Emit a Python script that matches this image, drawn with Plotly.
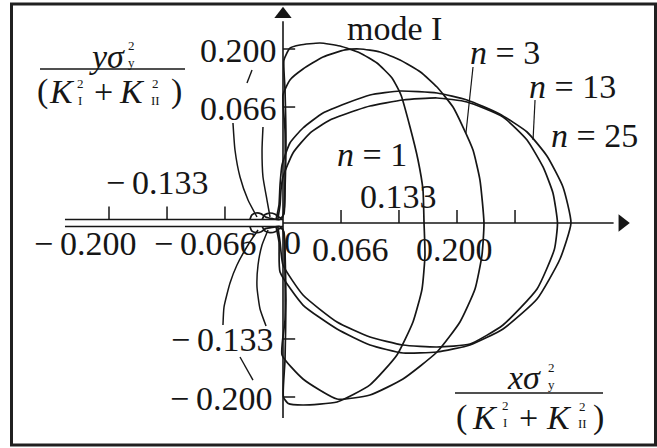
import plotly.graph_objects as go

# Mode I plastic-zone boundaries in normalised coordinates
#   X = x*sy^2/(KI^2+KII^2),  Y = y*sy^2/(KI^2+KII^2)
# Each half runs from the small lobe behind the crack tip, up/down the
# y axis and round to the intercept on the x axis ahead of the tip.
n1_upper_x = [-0.038, -0.036, -0.031, -0.025, -0.020, -0.012, -0.004, 0.001, 0.0023, 0.0034, 0.0023, 0.0011,
              0.008, 0.0195, 0.0425, 0.0655, 0.0885, 0.108, 0.1253, 0.1356, 0.1460, 0.1552, 0.1609, 0.1621]
n1_upper_y = [0.004, 0.009, 0.0115, 0.0105, 0.0070, 0.005, 0.004, 0.010, 0.0379, 0.0954, 0.1529, 0.1874,
              0.2011, 0.2046, 0.2069, 0.2034, 0.1954, 0.1839, 0.1667, 0.1471, 0.1103, 0.0724, 0.0379, 0.0]
n1_lower_x = [-0.038, -0.036, -0.031, -0.025, -0.020, -0.012, -0.004, 0.001, 0.0023, 0.0034, 0.0023, 0.0005,
              0.006, 0.023, 0.0621, 0.1, 0.131, 0.1494, 0.1598, 0.1632, 0.1621]
n1_lower_y = [-0.004, -0.009, -0.0110, -0.0100, -0.0065, -0.005, -0.004, -0.010, -0.031, -0.0885, -0.1575, -0.2000,
              -0.2075, -0.2092, -0.2057, -0.186, -0.1517, -0.1138, -0.0759, -0.0368, 0.0]

n3_upper_x = [-0.024, -0.021, -0.015, -0.009, -0.005, -0.001, 0.0015, 0.0023, 0.0023, 0.000, 0.008, 0.023, 0.046,
              0.0713, 0.0885, 0.1115, 0.1345, 0.158, 0.177, 0.1954, 0.2069, 0.2184, 0.2264, 0.2310]
n3_upper_y = [0.004, 0.0095, 0.0115, 0.010, 0.007, 0.006, 0.018, 0.0494, 0.1069, 0.1471, 0.1644, 0.1770, 0.1908,
              0.1989, 0.2000, 0.1966, 0.1874, 0.1736, 0.1563, 0.1333, 0.1103, 0.0839, 0.0494, 0.0]
n3_lower_x = [-0.024, -0.021, -0.015, -0.009, -0.005, -0.001, 0.0015, 0.0023, 0.0023, -0.0011, 0.023, 0.0621,
              0.1, 0.1379, 0.177, 0.2034, 0.2207, 0.2287, 0.2310]
n3_lower_y = [-0.004, -0.009, -0.011, -0.010, -0.007, -0.006, -0.018, -0.054, -0.1115, -0.1517, -0.1793, -0.2023,
              -0.1977, -0.1793, -0.1483, -0.1138, -0.0759, -0.0368, 0.0]

n13_upper_x = [-0.006, -0.0034, -0.0023, 0.000, 0.0115, 0.031, 0.054, 0.0851, 0.1, 0.1379,
               0.177, 0.2115, 0.2529, 0.2805, 0.2989, 0.3103, 0.3155]
n13_upper_y = [0.004, 0.0207, 0.0379, 0.0529, 0.0805, 0.1034, 0.1184, 0.1299, 0.1345, 0.1414,
               0.1437, 0.1391, 0.1218, 0.0954, 0.0644, 0.0345, 0.0]
n13_lower_x = [-0.006, -0.0034, 0.000, 0.023, 0.0621, 0.1, 0.1379, 0.177, 0.2149, 0.2529,
               0.2920, 0.3120, 0.3155]
n13_lower_y = [-0.004, -0.0218, -0.0483, -0.0828, -0.1138, -0.131, -0.1402, -0.1425, -0.1391,
               -0.1172, -0.0759, -0.0300, 0.0]

n25_upper_x = [-0.008, -0.0046, -0.0034, -0.0011, 0.008, 0.023, 0.046, 0.0736, 0.1, 0.1345,
               0.177, 0.2115, 0.249, 0.2805, 0.3034, 0.3218, 0.3310]
n25_upper_y = [0.004, 0.0207, 0.0437, 0.0667, 0.0920, 0.1092, 0.1264, 0.1379, 0.1471, 0.1517,
               0.1494, 0.1414, 0.1253, 0.1046, 0.0770, 0.0414, 0.0]
n25_lower_x = [-0.008, -0.0046, -0.0034, 0.023, 0.0621, 0.1, 0.1379, 0.177, 0.2149, 0.2529,
               0.2920, 0.3184, 0.3310]
n25_lower_y = [-0.004, -0.0218, -0.0563, -0.0943, -0.1218, -0.1402, -0.1494, -0.1483, -0.1402,
               -0.1218, -0.0874, -0.0414, 0.0]

# axis ticks and their printed labels
x_ticks_right = [0.0667, 0.1333, 0.2000, 0.2667]
x_ticks_left = [-0.0667, -0.1333, -0.2000]
y_ticks = [0.2000, 0.1333, -0.1333, -0.2000]
y_tick_text = ["0.200", "0.066", "\u2212\u20090.133", "\u2212\u20090.200"]
x_tick_text = ["0", "0.066", "0.133", "0.200"]
x_tick_text_left = ["\u2212\u20090.066", "\u2212\u20090.133", "\u2212\u20090.200"]

# leader curves pointing at the zones behind the crack tip
lead_a_x = [-0.0575, -0.0552, -0.0494, -0.0402, -0.0299]
lead_a_y = [0.1149, 0.0839, 0.0529, 0.0264, 0.0069]
lead_b_x = [-0.0230, -0.0241, -0.0230, -0.0184, -0.0149]
lead_b_y = [0.1103, 0.0839, 0.0529, 0.0264, 0.0069]
lead_c_x = [-0.0287, -0.0402, -0.0529, -0.0609, -0.0678, -0.0690]
lead_c_y = [-0.0080, -0.0253, -0.0483, -0.0690, -0.0966, -0.1172]
lead_d_x = [-0.0172, -0.0241, -0.0287, -0.0299, -0.0264, -0.0195]
lead_d_y = [-0.0080, -0.0253, -0.0483, -0.0736, -0.0989, -0.1184]

W, H = 657, 448
X0_PX, Y0_PX, SCALE = 283, 223, 870.0   # origin position and px per unit

INK = "#161616"
SERIF = "Liberation Serif, Times New Roman, serif"
FS = 34      # main text size
FS_SMALL = 13

fig = go.Figure()


def curve(xs, ys, width=1.7, shape="spline"):
    fig.add_trace(go.Scatter(x=xs, y=ys, mode="lines",
                             line=dict(color=INK, width=width, shape=shape, smoothing=0.5),
                             hoverinfo="skip", showlegend=False))


for ux, uy, lx, ly in [(n1_upper_x, n1_upper_y, n1_lower_x, n1_lower_y),
                       (n3_upper_x, n3_upper_y, n3_lower_x, n3_lower_y),
                       (n13_upper_x, n13_upper_y, n13_lower_x, n13_lower_y),
                       (n25_upper_x, n25_upper_y, n25_lower_x, n25_lower_y)]:
    curve(ux + lx[::-1][1:], uy + ly[::-1][1:])

for lx, ly in [(lead_a_x, lead_a_y), (lead_b_x, lead_b_y), (lead_c_x, lead_c_y), (lead_d_x, lead_d_y)]:
    curve(lx, ly, width=1.5)

# axes
X_END, Y_TOP, Y_BOT = 0.380, 0.232, -0.224
CRACK_END, CRACK_HALF = -0.2506, 0.004
curve([0, X_END], [0, 0], width=1.6, shape="linear")
curve([0, 0], [Y_BOT, Y_TOP], width=1.6, shape="linear")
curve([CRACK_END, 0], [CRACK_HALF, CRACK_HALF], width=1.6, shape="linear")
curve([CRACK_END, 0], [-CRACK_HALF, -CRACK_HALF], width=1.6, shape="linear")
fig.add_trace(go.Scatter(x=[X_END + 0.010], y=[0], mode="markers",
                         marker=dict(symbol="triangle-right", size=15, color=INK),
                         hoverinfo="skip", showlegend=False))
fig.add_trace(go.Scatter(x=[0], y=[Y_TOP + 0.008], mode="markers",
                         marker=dict(symbol="triangle-up", size=15, color=INK),
                         hoverinfo="skip", showlegend=False))

# tick marks
TICK = 0.015
tx, ty = [], []
for v in x_ticks_right:
    tx += [v, v, None]
    ty += [0, TICK, None]
for v in x_ticks_left:
    tx += [v, v, None]
    ty += [CRACK_HALF, CRACK_HALF + TICK, None]
for v in y_ticks:
    tx += [0, 0.014, None]
    ty += [v, v, None]
curve(tx, ty, width=1.5, shape="linear")

# pointers from the n labels
curve([0.2184, 0.2103], [0.1793, 0.1034], width=1.2, shape="linear")
curve([0.2897, 0.2874], [0.1414, 0.0954], width=1.2, shape="linear")
curve([-0.0356, -0.0414], [0.1759, 0.1609], width=1.4, shape="linear")
curve([-0.0494, -0.0345], [-0.1540, -0.1805], width=1.4, shape="linear")

annotations = []


def text(s, xp, yp, size=FS, xanchor="center"):
    annotations.append(dict(text=s, x=xp / W, y=1 - yp / H, xref="paper", yref="paper",
                            xanchor=xanchor, yanchor="middle", showarrow=False, borderpad=0,
                            align="center", font=dict(family=SERIF, size=size, color=INK)))


def stacked(sup, sub, xp, yp):
    # superscript over subscript, e.g. the 2 and I of K_I^2
    text(f"{sup}<br>{sub}", xp, yp, size=FS_SMALL)


# tick labels
for s, xp, yp in zip(x_tick_text, [292, 350, 398, 454], [242, 249, 197, 249]):
    text(s, xp, yp)
for s, xp, yp in zip(x_tick_text_left, [205, 157, 85], [243, 183, 243]):
    text(s, xp, yp)
for s, yv, xr in zip(y_tick_text, y_ticks, [278, 278, 274, 273]):
    text(s, xr, Y0_PX - yv * SCALE + 1, xanchor="right")

text("mode I", 394, 28)
text("<i>n</i> = 1", 372, 154)
text("<i>n</i> = 3", 505, 52)
text("<i>n</i> = 13", 572, 86)
text("<i>n</i> = 25", 594, 135)

# y-axis quantity
text("<i>y\u03c3</i>", 107, 57)
stacked("2", "y", 131, 54)
text("(", 42, 91)
text("<i>K</i>", 62, 91)
stacked("2", "I", 80, 92)
text("+", 103, 91)
text("<i>K</i>", 132, 91)
stacked("2", "II", 155, 92)
text(")", 176, 91)

# x-axis quantity
text("<i>x\u03c3</i>", 524, 377)
stacked("2", "y", 551, 376)
text("(", 461, 417)
text("<i>K</i>", 485, 417)
stacked("2", "I", 505, 414)
text("+", 528, 417)
text("<i>K</i>", 559, 417)
stacked("2", "II", 582, 415)
text(")", 598, 417)

shapes = [
    # fraction bars
    dict(type="line", xref="paper", yref="paper", x0=40 / W, x1=185 / W, y0=1 - 69 / H, y1=1 - 69 / H,
         line=dict(color=INK, width=1.3)),
    dict(type="line", xref="paper", yref="paper", x0=455 / W, x1=603 / W, y0=1 - 393 / H, y1=1 - 393 / H,
         line=dict(color=INK, width=1.3)),
    # frame
    dict(type="rect", xref="paper", yref="paper", x0=11.5 / W, x1=655.5 / W, y0=1 - 445 / H, y1=1 - 4 / H,
         line=dict(color="#202020", width=3)),
]

fig.update_layout(
    width=W, height=H,
    margin=dict(l=0, r=0, t=0, b=0),
    paper_bgcolor="white", plot_bgcolor="white",
    xaxis=dict(range=[-X0_PX / SCALE, (W - X0_PX) / SCALE], visible=False, fixedrange=True),
    yaxis=dict(range=[(Y0_PX - H) / SCALE, Y0_PX / SCALE], visible=False, fixedrange=True),
    annotations=annotations, shapes=shapes, showlegend=False,
)

fig.write_html("out.html")
